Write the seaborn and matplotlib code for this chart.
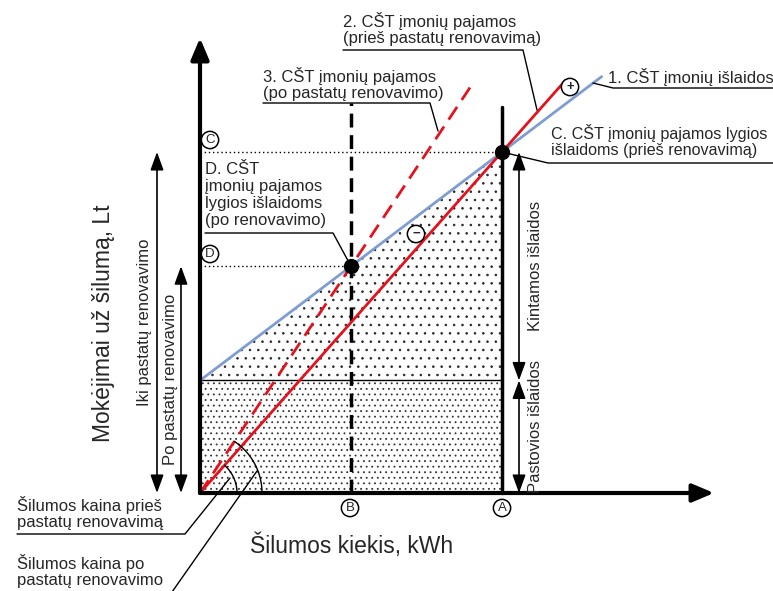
import numpy as np
import matplotlib.pyplot as plt
import seaborn as sns

# schematic values (heat quantity in kWh units, payments in Lt units)
q_before = 10.0          # A - heat sold before renovation
q_after = 5.0            # B - heat sold after renovation
fixed_cost = 3.3         # pastovios islaidos
var_cost = 0.67          # kintamos islaidos per kWh
price_before = 1.0       # heat price before renovation
price_after = 1.33       # heat price after renovation
cost_q_end = 13.3
rev_before_q_end = 12.1
rev_after_q_end = 8.94

level_c = fixed_cost + var_cost * q_before
level_d = fixed_cost + var_cost * q_after

sns.set_style('white')
plt.rcParams['font.family'] = ['Liberation Sans', 'DejaVu Sans']
plt.rcParams['hatch.linewidth'] = 0.6

W, H = 773, 591
SX, SY = 30.2, 34.1   # px per data unit
OX, OY = 200, 493     # origin in px


def P(x, y):
    # pixel layout position -> data coords
    return ((x - OX) / SX, (OY - y) / SY)


fig = plt.figure(figsize=(W / 100, H / 100), dpi=100)
ax = fig.add_axes([0, 0, 1, 1])
ax.set_xlim(-OX / SX, (W - OX) / SX)
ax.set_ylim((OY - H) / SY, OY / SY)
ax.axis('off')

RED = '#e3121e'
BLUE = '#7f9dd0'

# hatched areas
q = np.linspace(0, q_before, 50)
ax.fill_between(q, fixed_cost, fixed_cost + var_cost * q, facecolor='none',
                edgecolor='0.15', hatch='..', linewidth=0)
ax.fill_between([0, q_before], 0, fixed_cost, facecolor='none',
                edgecolor='0.2', hatch='...', linewidth=0)
ax.plot([0, q_before], [fixed_cost, fixed_cost], color='k', lw=1)

# dotted levels
ax.plot([0, q_before], [level_c, level_c], color='k', lw=1, ls=(0, (1, 2)))
ax.plot([0, q_after], [level_d, level_d], color='k', lw=1, ls=(0, (1, 2)))

# verticals at A and B
ax.plot([q_before, q_before], [0, P(0, 107)[1]], color='k', lw=2.5)
ax.plot([q_after, q_after], [0, P(0, 103)[1]], color='k', lw=2.5, ls=(0, (4, 2.2)))

# main lines
sns.lineplot(x=[0, cost_q_end], y=[fixed_cost, fixed_cost + var_cost * cost_q_end],
             color=BLUE, lw=2, ax=ax)
sns.lineplot(x=[0, rev_before_q_end], y=[0, price_before * rev_before_q_end],
             color=RED, lw=2, ax=ax)
ax.plot([0, rev_after_q_end], [0, price_after * rev_after_q_end],
        color=RED, lw=2, ls=(0, (5.5, 3)))

# break-even points
ax.plot([q_before, q_after], [level_c, level_d], 'o', color='k', ms=10)

# price angle arcs
for price, r in [(price_before, 37), (price_after, 62)]:
    ang = np.arctan(price * SY / SX)
    t = np.linspace(0, ang, 40)
    ax.plot(r * np.cos(t) / SX, r * np.sin(t) / SY, color='k', lw=1)

# axes arrows
head = dict(arrowstyle='-|>,head_length=1.3,head_width=0.55', lw=3, color='k',
            shrinkA=0, shrinkB=0, mutation_scale=10)
ax.annotate('', xy=P(200, 38), xytext=(0, 0), arrowprops=head)
ax.annotate('', xy=P(714, 493), xytext=(0, 0), arrowprops=head)

dbl = dict(arrowstyle='<|-|>,head_length=1.1,head_width=0.4', lw=1.2, color='k',
           shrinkA=0, shrinkB=0, mutation_scale=10)
xl1 = P(157, 0)[0]
xl2 = P(181, 0)[0]
xr = P(519, 0)[0]
ax.annotate('', xy=(xl1, level_c), xytext=(xl1, 0), arrowprops=dbl)
ax.annotate('', xy=(xl2, level_d), xytext=(xl2, 0), arrowprops=dbl)
ax.annotate('', xy=(xr, level_c), xytext=(xr, fixed_cost), arrowprops=dbl)
ax.annotate('', xy=(xr, fixed_cost), xytext=(xr, 0), arrowprops=dbl)

fs = 12
ax.text(P(145, 0)[0], level_c / 2, 'Iki pastatų renovavimo', rotation=90,
        ha='center', va='center', fontsize=fs)
ax.text(P(170, 0)[0], level_d / 2, 'Po pastatų renovavimo', rotation=90,
        ha='center', va='center', fontsize=fs)
ax.text(P(536, 0)[0], (level_c + fixed_cost) / 2, 'Kintamos išlaidos', rotation=90,
        ha='center', va='center', fontsize=fs)
ax.text(P(536, 0)[0], fixed_cost / 2 + 0.3, 'Pastovios išlaidos', rotation=90,
        ha='center', va='center', fontsize=fs)

ax.text(*P(104, 323), 'Mokėjimai už šilumą, Lt', rotation=90,
        ha='center', va='center', fontsize=16.5)
ax.text(*P(352, 546), 'Šilumos kiekis, kWh', ha='center', va='center', fontsize=16.5)


def lead(pts):
    xs, ys = zip(*[P(*p) for p in pts])
    ax.plot(xs, ys, color='k', lw=1)


ax.text(*P(343, 29), '2. CŠT įmonių pajamos\n(prieš pastatų renovavimą)',
        ha='left', va='center', fontsize=fs, linespacing=1.15)
lead([(343, 50), (523, 50), (537, 110)])
ax.text(*P(263, 84), '3. CŠT įmonių pajamos\n(po pastatų renovavimo)',
        ha='left', va='center', fontsize=fs, linespacing=1.15)
lead([(263, 103), (430, 103), (438, 131)])
ax.text(*P(608, 77), '1. CŠT įmonių išlaidos', ha='left', va='center', fontsize=fs)
lead([(773, 88), (613, 88), (593, 83)])
ax.text(*P(551, 141), 'C. CŠT įmonių pajamos lygios\nišlaidoms (prieš renovavimą)',
        ha='left', va='center', fontsize=11.6, linespacing=1.15)
lead([(773, 163), (548, 163), (q_before * SX + OX, OY - level_c * SY)])
ax.text(*P(205, 195), 'D. CŠT\nįmonių pajamos\nlygios išlaidoms\n(po renovavimo)',
        ha='left', va='center', fontsize=fs, linespacing=1.15)
lead([(205, 233), (333, 233), (q_after * SX + OX, OY - level_d * SY)])
ax.text(*P(17, 513), 'Šilumos kaina prieš\npastatų renovavimą',
        ha='left', va='center', fontsize=fs, linespacing=1.15)
lead([(17, 534), (185, 534), (230, 478)])
ax.text(*P(17, 571), 'Šilumos kaina po\npastatų renovavimo',
        ha='left', va='center', fontsize=fs, linespacing=1.15)
lead([(172, 592), (257, 471)])

# circled marks
circ = dict(boxstyle='circle,pad=0.2', fc='white', ec='k', lw=1.1)
for (x, y), s in [((210, 140), 'C'), ((210, 254), 'D'), ((350, 508), 'B'),
                  ((502, 508), 'A'), ((570, 87), '+'), ((416, 234), '−')]:
    ax.text(*P(x, y), s, ha='center', va='center', fontsize=9.5,
            fontweight='bold' if s in '+−' else 'normal', bbox=circ)

fig.savefig('out.png', dpi=100)
